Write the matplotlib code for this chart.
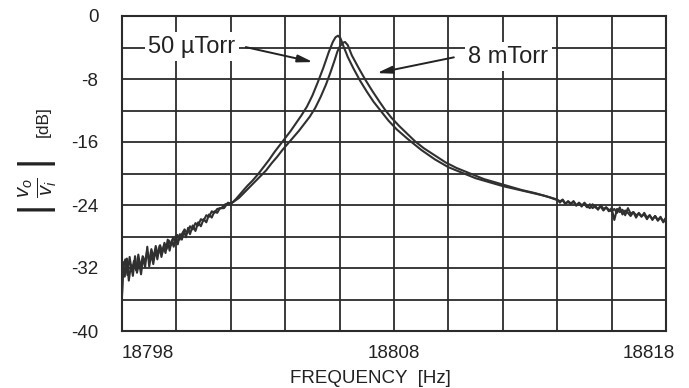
import matplotlib
matplotlib.use("Agg")
import matplotlib.pyplot as plt
import matplotlib.transforms as mtransforms

plt.rcParams['font.family'] = ['Liberation Sans', 'DejaVu Sans']
plt.rcParams['mathtext.fontset'] = 'custom'
plt.rcParams['mathtext.rm'] = 'Liberation Sans'
plt.rcParams['mathtext.it'] = 'Liberation Sans:italic'

# ---------------- data ----------------
x_tick_values = [18798, 18808, 18818]
x_tick_labels = ["18798", "18808", "18818"]
y_tick_values = [0, -8, -16, -24, -32, -40]
y_tick_labels = ["0", "-8", "-16", "-24", "-32", "-40"]
x_grid = [18798, 18800, 18802, 18804, 18806, 18808, 18810, 18812, 18814, 18816, 18818]
y_grid = [0, -4, -8, -12, -16, -20, -24, -28, -32, -36, -40]

# 50 uTorr trace
a_freq = [
    18798.00, 18798.03, 18798.10, 18798.18, 18798.25, 18798.33, 18798.40, 18798.48, 18798.55, 18798.63,
    18798.70, 18798.78, 18798.85, 18798.93, 18799.00, 18799.08, 18799.15, 18799.23, 18799.30, 18799.38,
    18799.45, 18799.53, 18799.60, 18799.68, 18799.75, 18799.83, 18799.90, 18799.98, 18800.05, 18800.13,
    18800.20, 18800.28, 18800.35, 18800.43, 18800.50, 18800.60, 18800.70, 18800.80, 18800.90, 18801.00,
    18801.10, 18801.20, 18801.30, 18801.40, 18801.50, 18801.60, 18801.75, 18801.90, 18802.00, 18802.20,
    18802.40, 18802.60, 18802.80, 18803.00, 18803.20, 18803.40, 18803.60, 18803.80, 18804.00, 18804.20,
    18804.40, 18804.60, 18804.80, 18805.00, 18805.20, 18805.40, 18805.60, 18805.75, 18805.85, 18805.94,
    18806.03, 18806.15, 18806.30, 18806.50, 18806.75, 18807.00, 18807.25, 18807.50, 18807.80, 18808.10,
    18808.50, 18809.00, 18809.50, 18810.00, 18810.50, 18811.00, 18811.50, 18812.00, 18812.50, 18813.00,
    18813.50, 18814.00,
    18814.10, 18814.20, 18814.30, 18814.40, 18814.50, 18814.60, 18814.70, 18814.80, 18814.90, 18815.00,
    18815.10, 18815.20, 18815.30, 18815.40, 18815.50, 18815.60, 18815.70, 18815.80, 18815.90, 18816.00,
    18816.10, 18816.20, 18816.30, 18816.40, 18816.50, 18816.60, 18816.70, 18816.80, 18816.90, 18817.00,
    18817.10, 18817.20, 18817.30, 18817.40, 18817.50, 18817.60, 18817.70, 18817.80, 18817.90, 18818.00,
]
a_db = [
    -35.6, -31.2, -33.1, -30.8, -33.6, -31.6, -33.0, -30.5, -32.6, -31.3,
    -32.8, -30.6, -31.9, -29.3, -31.8, -30.2, -31.5, -29.7, -30.9, -29.2,
    -30.6, -29.3, -30.1, -28.4, -29.8, -28.5, -29.3, -27.9, -29.0, -27.7,
    -28.4, -27.3, -28.1, -26.9, -27.7, -26.6, -27.3, -26.2, -26.7, -25.8,
    -26.2, -25.2, -25.6, -24.8, -25.0, -24.4, -24.4, -23.7, -23.9, -23.2,
    -22.4, -21.6, -20.9, -20.1, -19.2, -18.3, -17.3, -16.4, -15.5, -14.6,
    -13.6, -12.6, -11.5, -10.1, -8.4, -6.6, -4.6, -3.3, -2.7, -2.5,
    -2.8, -3.9, -5.2, -6.6, -8.2, -9.6, -10.9, -12.0, -13.3, -14.4,
    -15.6, -17.0, -18.2, -19.2, -19.9, -20.6, -21.1, -21.6, -22.0, -22.4,
    -22.8, -23.3,
    -23.7, -23.3, -23.8, -23.6, -23.9, -23.5, -24.0, -23.8, -24.2, -23.7,
    -24.1, -24.4, -23.9, -24.3, -24.5, -24.2, -24.7, -24.3, -24.6, -24.8,
    -24.5, -25.0, -24.3, -25.2, -24.7, -25.0, -25.4, -24.9, -25.3, -25.1,
    -25.5, -25.0, -25.6, -25.3, -25.8, -25.4, -25.9, -25.5, -26.2, -25.7,
]

# 8 mTorr trace
b_freq = [
    18798.00, 18798.05, 18798.12, 18798.20, 18798.28, 18798.36, 18798.44, 18798.52, 18798.60, 18798.68,
    18798.76, 18798.84, 18798.92, 18799.00, 18799.08, 18799.16, 18799.24, 18799.32, 18799.40, 18799.48,
    18799.56, 18799.64, 18799.72, 18799.80, 18799.88, 18799.96, 18800.04, 18800.12, 18800.20, 18800.30,
    18800.40, 18800.50, 18800.60, 18800.70, 18800.80, 18800.90, 18801.00, 18801.10, 18801.20, 18801.30,
    18801.40, 18801.50, 18801.65, 18801.80, 18801.95, 18802.10, 18802.30, 18802.50, 18802.70, 18802.90,
    18803.10, 18803.30, 18803.50, 18803.70, 18803.90, 18804.10, 18804.30, 18804.50, 18804.70, 18804.90,
    18805.10, 18805.30, 18805.50, 18805.65, 18805.80, 18805.92, 18806.02, 18806.12, 18806.20, 18806.30,
    18806.45, 18806.70, 18806.93, 18807.20, 18807.45, 18807.67, 18807.90, 18808.20, 18808.50, 18808.77,
    18809.10, 18809.50, 18809.90, 18810.30, 18810.80, 18811.30, 18811.80, 18812.30, 18812.70, 18813.20,
    18813.70, 18814.10,
    18814.20, 18814.30, 18814.40, 18814.50, 18814.60, 18814.70, 18814.80, 18814.90, 18815.00, 18815.10,
    18815.20, 18815.30, 18815.40, 18815.50, 18815.60, 18815.70, 18815.80, 18815.90, 18816.00, 18816.10,
    18816.20, 18816.30, 18816.40, 18816.50, 18816.60, 18816.70, 18816.80, 18816.90, 18817.00, 18817.10,
    18817.20, 18817.30, 18817.40, 18817.50, 18817.60, 18817.70, 18817.80, 18817.90, 18818.00,
]
b_db = [
    -35.4, -32.0, -30.9, -32.9, -30.6, -32.4, -31.1, -32.3, -30.3, -32.0,
    -30.5, -31.4, -29.9, -31.1, -29.6, -30.7, -29.2, -30.3, -29.1, -30.0,
    -28.8, -29.6, -28.5, -29.1, -28.1, -28.8, -27.8, -28.4, -27.7, -27.1,
    -27.6, -26.7, -27.1, -26.3, -26.6, -25.8, -26.0, -25.3, -25.5, -24.8,
    -25.0, -24.5, -24.4, -23.9, -23.8, -23.6, -23.1, -22.4, -21.7, -21.0,
    -20.3, -19.6, -18.7, -17.9, -17.0, -16.2, -15.4, -14.6, -13.7, -12.8,
    -11.7, -10.3, -8.7, -7.3, -5.8, -4.5, -3.8, -3.4, -3.3, -3.7,
    -5.0, -6.6, -8.0, -9.5, -10.8, -11.9, -12.9, -14.0, -15.0, -15.9,
    -16.8, -17.7, -18.6, -19.3, -20.0, -20.7, -21.2, -21.7, -22.1, -22.5,
    -23.0, -23.5,
    -23.4, -23.9, -23.5, -23.8, -23.6, -24.1, -23.7, -24.0, -23.9, -24.3,
    -23.9, -24.4, -24.1, -24.6, -24.0, -24.5, -24.3, -24.8, -24.4, -25.9,
    -24.5, -24.9, -24.6, -25.3, -24.4, -25.1, -24.9, -25.6, -25.0, -25.4,
    -25.2, -25.8, -25.3, -25.9, -25.4, -26.0, -25.6, -26.1, -25.6,
]

label_a = "50 µTorr"
label_b = "8 mTorr"
label_a_text_pos = (18800.57, -3.9)
label_a_arrow_tip = (18805.02, -5.85)
label_a_arrow_tail = (18802.55, -3.95)
label_b_text_pos = (18812.2, -5.2)
label_b_arrow_tip = (18807.37, -7.25)
label_b_arrow_tail = (18810.2, -5.25)

# ---------------- figure ----------------
W, H = 689, 388
fig = plt.figure(figsize=(W / 100, H / 100), dpi=100)
ax = fig.add_axes([122 / W, 1 - 331 / H, (666 - 122) / W, (331 - 16) / H])

ink = "#2b2b2b"
ax.set_xlim(18798, 18818)
ax.set_ylim(-40, 0)
ax.set_xticks(x_grid, minor=True)
ax.set_yticks(y_grid, minor=True)
ax.set_xticks(x_tick_values)
ax.set_xticklabels(x_tick_labels)
ax.set_yticks(y_tick_values)
ax.set_yticklabels(y_tick_labels)
ax.grid(which="both", color=ink, linewidth=1.3)
ax.set_axisbelow(True)
ax.tick_params(which="both", length=0, labelsize=13.5, colors="#222222")
ax.tick_params(axis="x", pad=10)
ax.tick_params(axis="y", pad=17)
for s in ax.spines.values():
    s.set_color(ink)
    s.set_linewidth(1.5)

xl = ax.get_xticklabels()
xl[0].set_horizontalalignment("left")
xl[2].set_horizontalalignment("right")
xl[2].set_transform(xl[2].get_transform() + mtransforms.ScaledTranslation(9 / 100, 0, fig.dpi_scale_trans))

ax.plot(a_freq, a_db, color="#303030", linewidth=1.5, zorder=3)
ax.plot(b_freq, b_db, color="#303030", linewidth=1.5, zorder=3)

bbox = dict(facecolor="white", edgecolor="none", pad=2.5)
ax.text(*label_a_text_pos, label_a, fontsize=17, ha="center", va="center",
        color="#222222", bbox=bbox, zorder=4)
ax.text(*label_b_text_pos, label_b, fontsize=17, ha="center", va="center",
        color="#222222", bbox=bbox, zorder=4)
arrow = dict(arrowstyle="-|>,head_length=0.9,head_width=0.22", color="#222222",
             lw=1.4, shrinkA=0, shrinkB=0)
ax.annotate("", xy=label_a_arrow_tip, xytext=label_a_arrow_tail, arrowprops=arrow, zorder=5)
ax.annotate("", xy=label_b_arrow_tip, xytext=label_b_arrow_tail, arrowprops=arrow, zorder=5)

fig.text(370 / W, 5 / H, "FREQUENCY  [Hz]", fontsize=13.5, ha="center", va="baseline",
         color="#222222")
fig.text(38 / W, 1 - 188 / H, r"$\left|\;\frac{v_o}{v_i}\;\right|$", fontsize=21,
         rotation=90, ha="center", va="center", color="#222222")
fig.text(43 / W, 1 - 122 / H, "[dB]", fontsize=12.5, rotation=90, ha="center",
         va="center", color="#222222")

fig.savefig("out.png", dpi=100, facecolor="white")
